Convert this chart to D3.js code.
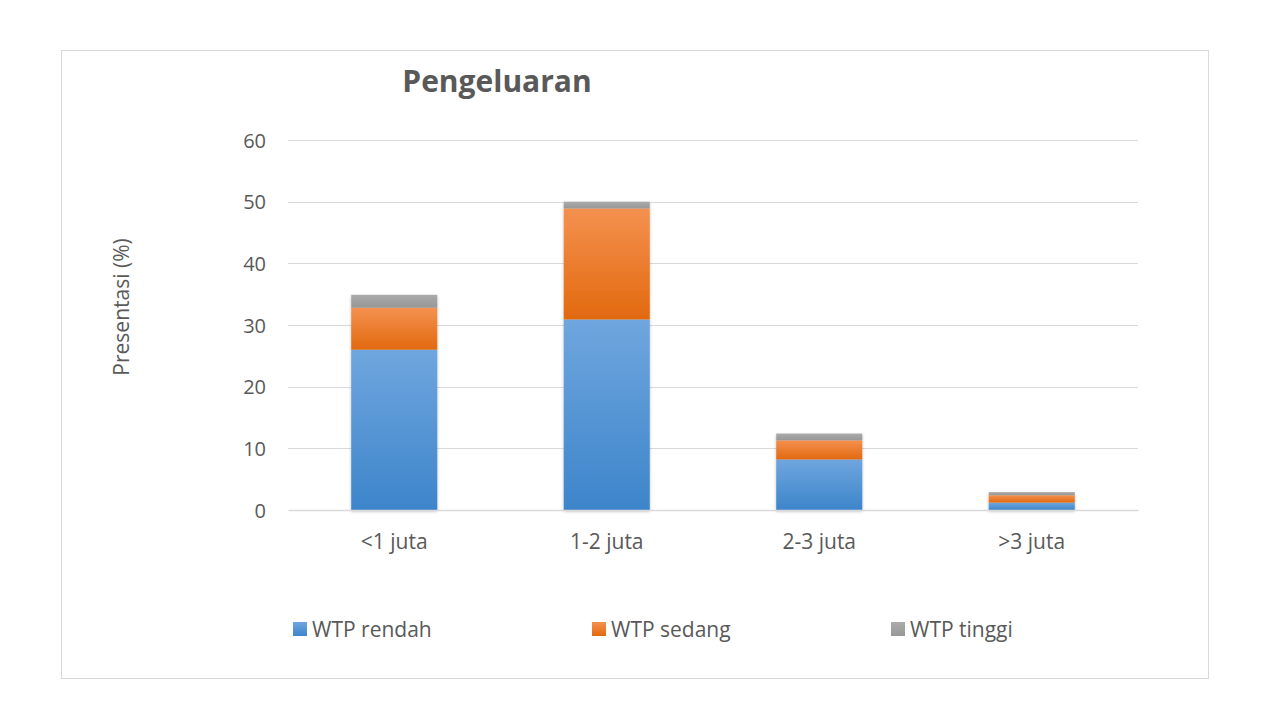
<!DOCTYPE html>
<html>
<head>
<meta charset="utf-8">
<script src="https://cdn.jsdelivr.net/npm/d3@7"></script>
<style>
  body { margin: 0; background: #fff; }
  text { font-family: "Open Sans", sans-serif; fill: #595959; }
</style>
</head>
<body>
<div id="vis"></div>
<script>
const categories = ["<1 juta", "1-2 juta", "2-3 juta", ">3 juta"];
const wtpRendah = [26.0, 30.9, 8.2, 1.2];
const wtpSedang = [6.8, 18.0, 3.1, 1.2];
const wtpTinggi = [2.1, 1.1, 1.1, 0.5];
const seriesNames = ["WTP rendah", "WTP sedang", "WTP tinggi"];
const yTicks = [0, 10, 20, 30, 40, 50, 60];

const WIDTH = 1273, HEIGHT = 719;
const PLOT = {left: 288, right: 1138, top: 140, bottom: 510};

const svg = d3.select("#vis").append("svg")
  .attr("width", WIDTH).attr("height", HEIGHT);

const defs = svg.append("defs");
// gradients like the office look: lighter on top, darker at the bottom
const grads = [
  {id: "gBlue", top: "#6fa6de", bottom: "#3d85cb"},
  {id: "gOrange", top: "#f4914f", bottom: "#e2690f"},
  {id: "gGrey", top: "#ababab", bottom: "#979797"}
];
grads.forEach(g => {
  const lg = defs.append("linearGradient").attr("id", g.id)
    .attr("x1", 0).attr("y1", 0).attr("x2", 0).attr("y2", 1);
  lg.append("stop").attr("offset", "0%").attr("stop-color", g.top);
  lg.append("stop").attr("offset", "100%").attr("stop-color", g.bottom);
});
const shadow = defs.append("filter").attr("id", "shadow")
  .attr("x", "-10%").attr("y", "-10%").attr("width", "120%").attr("height", "120%");
shadow.append("feDropShadow").attr("dx", 0).attr("dy", 1.5)
  .attr("stdDeviation", 1.5).attr("flood-color", "#000").attr("flood-opacity", 0.25);

// chart frame
svg.append("rect")
  .attr("x", 61.5).attr("y", 50.5)
  .attr("width", 1147).attr("height", 628)
  .attr("fill", "#fff").attr("stroke", "#d9d9d9").attr("stroke-width", 1);

const x = d3.scaleBand()
  .domain(categories)
  .range([PLOT.left, PLOT.right])
  .paddingInner(0.595)
  .paddingOuter(0.2975);

const y = d3.scaleLinear()
  .domain([0, 60])
  .range([PLOT.bottom, PLOT.top]);

// gridlines
svg.append("g").selectAll("line")
  .data(yTicks.filter(d => d > 0))
  .enter().append("line")
  .attr("x1", PLOT.left).attr("x2", PLOT.right)
  .attr("y1", d => Math.round(y(d)) + 0.5).attr("y2", d => Math.round(y(d)) + 0.5)
  .attr("stroke", "#d9d9d9").attr("stroke-width", 1);

// y axis labels
const yAxis = d3.axisLeft(y).tickValues(yTicks).tickSize(0).tickPadding(22);
const yg = svg.append("g").attr("transform", `translate(${PLOT.left},0)`).call(yAxis);
yg.select(".domain").remove();
yg.selectAll("text").attr("font-size", "20px").style("font-family", "Open Sans").attr("fill", "#595959").attr("dy", "0.35em");

// stacked data
const rows = categories.map((c, i) => ({
  cat: c, "WTP rendah": wtpRendah[i], "WTP sedang": wtpSedang[i], "WTP tinggi": wtpTinggi[i]
}));
const stack = d3.stack().keys(seriesNames)(rows);
const fills = ["url(#gBlue)", "url(#gOrange)", "url(#gGrey)"];

const barG = svg.append("g").attr("filter", "url(#shadow)");
stack.forEach((layer, li) => {
  barG.append("g").selectAll("rect")
    .data(layer)
    .enter().append("rect")
    .attr("x", d => x(d.data.cat))
    .attr("y", d => y(d[1]))
    .attr("width", x.bandwidth())
    .attr("height", d => y(d[0]) - y(d[1]))
    .attr("fill", fills[li]);
});

// x axis baseline and labels
const xAxis = d3.axisBottom(x).tickSize(0).tickPadding(24);
const xg = svg.append("g").attr("transform", `translate(0,${PLOT.bottom})`).call(xAxis);
xg.select(".domain").attr("stroke", "#d9d9d9").attr("stroke-width", 1.5);
xg.selectAll("text").attr("font-size", "21px").style("font-family", "Open Sans").attr("fill", "#595959");

// title
svg.append("text")
  .attr("x", 497).attr("y", 92)
  .attr("text-anchor", "middle")
  .attr("font-size", "30px")
  .attr("font-weight", "bold")
  .text("Pengeluaran");

// y axis title
svg.append("text")
  .attr("transform", "translate(129,307) rotate(-90)")
  .attr("text-anchor", "middle")
  .attr("font-size", "21px")
  .text("Presentasi (%)");

// legend
const legendX = [293, 592, 891];
const legend = svg.append("g").selectAll("g")
  .data(seriesNames)
  .enter().append("g")
  .attr("transform", (d, i) => `translate(${legendX[i]},622)`);
legend.append("rect")
  .attr("width", 14).attr("height", 14)
  .attr("fill", (d, i) => fills[i]);
legend.append("text")
  .attr("x", 19).attr("y", 15)
  .attr("font-size", "21px")
  .text(d => d);
</script>
</body>
</html>
